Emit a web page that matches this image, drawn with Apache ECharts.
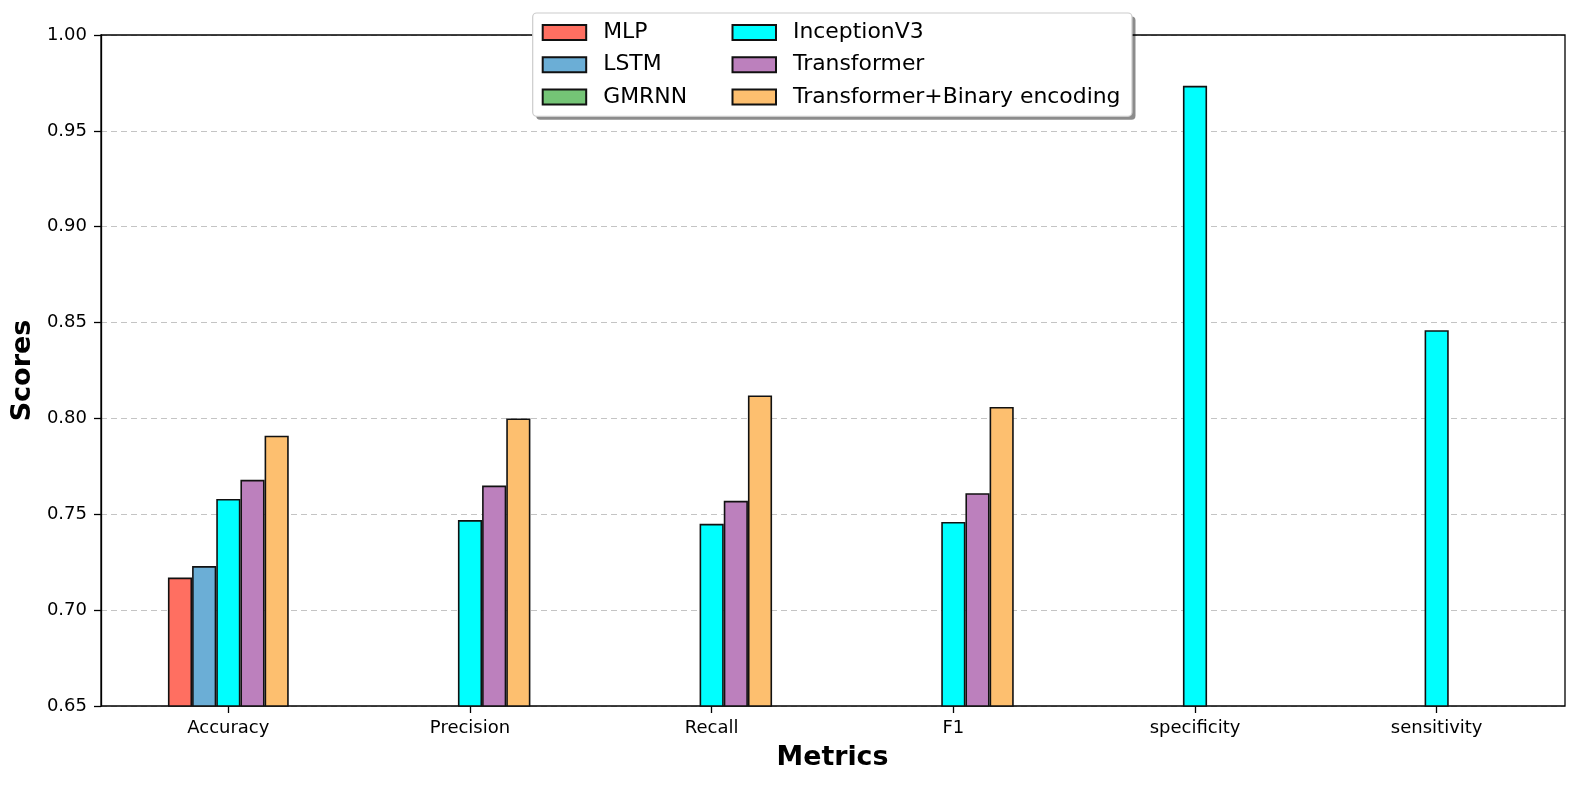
<!DOCTYPE html>
<html>
<head>
<meta charset="utf-8">
<script src="https://cdn.jsdelivr.net/npm/echarts@6/dist/echarts.min.js"></script>
<style>
html,body{margin:0;padding:0;background:#fff;}
#chart{width:1578px;height:785px;}
</style>
</head>
<body>
<div id="chart"></div>
<script>
const categories = ['Accuracy', 'Precision', 'Recall', 'F1', 'specificity', 'sensitivity'];
const mlp = [0.717, null, null, null, null, null];
const lstm = [0.723, null, null, null, null, null];
const gmrnn = [null, null, null, null, null, null];
const inceptionV3 = [0.758, 0.747, 0.745, 0.746, 0.9735, 0.846];
const transformer = [0.768, 0.765, 0.757, 0.761, null, null];
const transformerBinary = [0.791, 0.800, 0.812, 0.806, null, null];
const yTicks = [0.65, 0.70, 0.75, 0.80, 0.85, 0.90, 0.95, 1.00];

const FONT = 'DejaVu Sans';
const chart = echarts.init(document.getElementById('chart'), null, {renderer: 'canvas'});

function bar(name, data, color, stack) {
  const s = {
    name: name,
    type: 'bar',
    xAxisIndex: 1,
    yAxisIndex: 1,
    data: data,
    barWidth: '10%',
    barGap: '0%',
    itemStyle: {color: color, borderColor: '#111', borderWidth: 1.6},
    emphasis: {disabled: true},
    z: 3
  };
  if (stack) s.stack = stack;
  return s;
}

const legendCommon = {
  orient: 'vertical',
  top: 16.3,
  padding: 0,
  itemGap: 0,
  itemWidth: 43.5,
  itemHeight: 15,
  icon: 'rect',
  selectedMode: false,
  z: 20,
  textStyle: {fontFamily: FONT, fontSize: 21.9, color: '#000', lineHeight: 32.3, padding: [0, 0, 0, 12]}
};

const option = {
  backgroundColor: '#fff',
  animation: false,
  grid: [
    {left: 101, right: 13, top: 35, bottom: 79, show: true, borderColor: '#000', borderWidth: 1.3, backgroundColor: 'transparent', z: 1},
    {left: 107.5, right: 20.5, top: 35, bottom: 79, show: false}
  ],
  xAxis: [
    {gridIndex: 0, type: 'value', min: 0, max: 1, show: false},
    {
      gridIndex: 1, type: 'category', data: categories, boundaryGap: true,
      axisLine: {show: false},
      axisTick: {show: true, alignWithLabel: true, length: 7, lineStyle: {color: '#000', width: 1.3}},
      axisLabel: {fontFamily: FONT, fontSize: 18, color: '#000', margin: 13},
      name: 'Metrics', nameLocation: 'middle', nameGap: 39,
      nameTextStyle: {fontFamily: FONT, fontSize: 26.8, fontWeight: 'bold', color: '#000'}
    }
  ],
  yAxis: [
    {
      gridIndex: 0, type: 'value', min: 0.65, max: 1.0, interval: 0.05,
      axisLine: {show: true, lineStyle: {color: '#000', width: 1.3}},
      axisTick: {show: true, length: 7, lineStyle: {color: '#000', width: 1.3}},
      axisLabel: {fontFamily: FONT, fontSize: 18, color: '#000', margin: 14,
        formatter: function (v) {
          const t = yTicks.find(function (k) { return Math.abs(k - v) < 1e-6; });
          return t === undefined ? '' : t.toFixed(2);
        }},
      splitLine: {show: true, lineStyle: {color: '#c4c4c4', width: 1.2, type: [6, 4]}},
      name: 'Scores', nameLocation: 'middle', nameGap: 60,
      nameTextStyle: {fontFamily: FONT, fontSize: 27, fontWeight: 'bold', color: '#000'}
    },
    {gridIndex: 1, type: 'value', min: 0.65, max: 1.0, show: false}
  ],
  legend: [
    Object.assign({}, legendCommon, {left: 541.7, data: ['MLP', 'LSTM', 'GMRNN']}),
    Object.assign({}, legendCommon, {left: 731.5, data: ['InceptionV3', 'Transformer', 'Transformer+Binary encoding']})
  ],
  graphic: [
    {type: 'rect', z: 10, shape: {x: 536.2, y: 16.5, width: 599.3, height: 103.3, r: 4}, style: {fill: 'rgba(0,0,0,0.45)'}, silent: true},
    {type: 'rect', z: 11, shape: {x: 532.7, y: 13, width: 599.3, height: 103.3, r: 4}, style: {fill: '#fff', stroke: '#cccccc', lineWidth: 1.2}, silent: true}
  ],
  series: [
    bar('MLP', mlp, '#ff6f61', 'slot1'),
    bar('LSTM', lstm, '#6baed6'),
    bar('GMRNN', gmrnn, '#74c476', 'slot1'),
    bar('InceptionV3', inceptionV3, '#00ffff'),
    bar('Transformer', transformer, '#bc80bd'),
    bar('Transformer+Binary encoding', transformerBinary, '#fdbf6f')
  ]
};
chart.setOption(option);
</script>
</body>
</html>
